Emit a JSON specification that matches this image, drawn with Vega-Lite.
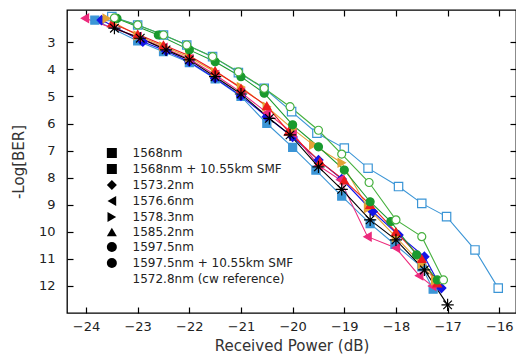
{
  "$schema": "https://vega.github.io/schema/vega-lite/v6.json",
  "width": 449,
  "height": 303,
  "autosize": {"type": "none"},
  "padding": {"left": 67, "top": 10, "right": 0, "bottom": 46},
  "background": "white",
  "config": {
    "view": {"stroke": "#000", "strokeWidth": 1.3},
    "font": "DejaVu Sans",
    "axis": {"domain": false, "grid": false, "tickColor": "#000", "tickWidth": 1.2, "tickSize": -6, "labelFont": "DejaVu Sans", "labelFontSize": 13, "labelColor": "#222", "titleFont": "DejaVu Sans", "titleFontSize": 15, "titleFontWeight": "normal", "titleColor": "#333"}
  },
  "datasets": {
    "d": [
      {"s": "1568nm", "x": -23.83, "y": 2.18}, {"s": "1568nm", "x": -23.0, "y": 2.95}, {"s": "1568nm", "x": -22.5, "y": 3.35}, {"s": "1568nm", "x": -22.0, "y": 3.75}, {"s": "1568nm", "x": -21.5, "y": 4.35}, {"s": "1568nm", "x": -21.0, "y": 5.0}, {"s": "1568nm", "x": -20.5, "y": 6.0}, {"s": "1568nm", "x": -20.0, "y": 6.88}, {"s": "1568nm", "x": -19.55, "y": 7.72}, {"s": "1568nm", "x": -19.05, "y": 8.68}, {"s": "1568nm", "x": -18.5, "y": 9.7}, {"s": "1568nm", "x": -18.02, "y": 10.47}, {"s": "1568nm", "x": -17.5, "y": 11.3}, {"s": "1568nm", "x": -17.28, "y": 12.12},
      {"s": "1568nm + 10.55km SMF", "x": -23.5, "y": 2.05}, {"s": "1568nm + 10.55km SMF", "x": -23.0, "y": 2.36}, {"s": "1568nm + 10.55km SMF", "x": -22.5, "y": 2.73}, {"s": "1568nm + 10.55km SMF", "x": -22.05, "y": 3.1}, {"s": "1568nm + 10.55km SMF", "x": -21.55, "y": 3.53}, {"s": "1568nm + 10.55km SMF", "x": -21.05, "y": 4.12}, {"s": "1568nm + 10.55km SMF", "x": -20.55, "y": 4.7}, {"s": "1568nm + 10.55km SMF", "x": -20.02, "y": 5.56}, {"s": "1568nm + 10.55km SMF", "x": -19.53, "y": 6.36}, {"s": "1568nm + 10.55km SMF", "x": -19.0, "y": 6.91}, {"s": "1568nm + 10.55km SMF", "x": -18.54, "y": 7.65}, {"s": "1568nm + 10.55km SMF", "x": -17.95, "y": 8.33}, {"s": "1568nm + 10.55km SMF", "x": -17.5, "y": 8.95}, {"s": "1568nm + 10.55km SMF", "x": -17.02, "y": 9.44}, {"s": "1568nm + 10.55km SMF", "x": -16.47, "y": 10.67}, {"s": "1568nm + 10.55km SMF", "x": -16.02, "y": 12.08},
      {"s": "1573.2nm", "x": -23.7, "y": 2.18}, {"s": "1573.2nm", "x": -22.9, "y": 2.98}, {"s": "1573.2nm", "x": -22.45, "y": 3.32}, {"s": "1573.2nm", "x": -22.0, "y": 3.72}, {"s": "1573.2nm", "x": -21.5, "y": 4.33}, {"s": "1573.2nm", "x": -21.0, "y": 4.98}, {"s": "1573.2nm", "x": -20.5, "y": 5.75}, {"s": "1573.2nm", "x": -20.0, "y": 6.5}, {"s": "1573.2nm", "x": -19.5, "y": 7.35}, {"s": "1573.2nm", "x": -19.05, "y": 8.05}, {"s": "1573.2nm", "x": -18.45, "y": 9.25}, {"s": "1573.2nm", "x": -17.95, "y": 10.12}, {"s": "1573.2nm", "x": -17.45, "y": 10.92}, {"s": "1573.2nm", "x": -17.12, "y": 12.08},
      {"s": "1576.6nm", "x": -24.02, "y": 2.11}, {"s": "1576.6nm", "x": -23.0, "y": 2.8}, {"s": "1576.6nm", "x": -22.5, "y": 3.2}, {"s": "1576.6nm", "x": -22.0, "y": 3.62}, {"s": "1576.6nm", "x": -21.5, "y": 4.2}, {"s": "1576.6nm", "x": -21.0, "y": 4.85}, {"s": "1576.6nm", "x": -20.5, "y": 5.6}, {"s": "1576.6nm", "x": -20.0, "y": 6.35}, {"s": "1576.6nm", "x": -19.5, "y": 7.55}, {"s": "1576.6nm", "x": -19.08, "y": 8.08}, {"s": "1576.6nm", "x": -18.55, "y": 10.18}, {"s": "1576.6nm", "x": -18.0, "y": 10.6}, {"s": "1576.6nm", "x": -17.55, "y": 11.62}, {"s": "1576.6nm", "x": -17.3, "y": 12.0},
      {"s": "1578.3nm", "x": -23.6, "y": 2.12}, {"s": "1578.3nm", "x": -23.0, "y": 2.75}, {"s": "1578.3nm", "x": -22.5, "y": 3.15}, {"s": "1578.3nm", "x": -22.0, "y": 3.55}, {"s": "1578.3nm", "x": -21.5, "y": 4.1}, {"s": "1578.3nm", "x": -21.0, "y": 4.65}, {"s": "1578.3nm", "x": -20.5, "y": 5.38}, {"s": "1578.3nm", "x": -20.0, "y": 6.2}, {"s": "1578.3nm", "x": -19.6, "y": 6.79}, {"s": "1578.3nm", "x": -19.05, "y": 7.45}, {"s": "1578.3nm", "x": -18.54, "y": 9.13}, {"s": "1578.3nm", "x": -18.0, "y": 10.2}, {"s": "1578.3nm", "x": -17.5, "y": 11.2}, {"s": "1578.3nm", "x": -17.24, "y": 11.8},
      {"s": "1585.2nm", "x": -23.5, "y": 2.3}, {"s": "1585.2nm", "x": -23.0, "y": 2.7}, {"s": "1585.2nm", "x": -22.5, "y": 3.1}, {"s": "1585.2nm", "x": -22.0, "y": 3.5}, {"s": "1585.2nm", "x": -21.5, "y": 4.05}, {"s": "1585.2nm", "x": -21.0, "y": 4.7}, {"s": "1585.2nm", "x": -20.5, "y": 5.35}, {"s": "1585.2nm", "x": -20.08, "y": 6.3}, {"s": "1585.2nm", "x": -19.47, "y": 7.41}, {"s": "1585.2nm", "x": -19.0, "y": 8.1}, {"s": "1585.2nm", "x": -18.5, "y": 9.0}, {"s": "1585.2nm", "x": -18.0, "y": 10.0}, {"s": "1585.2nm", "x": -17.5, "y": 11.0}, {"s": "1585.2nm", "x": -17.2, "y": 11.9},
      {"s": "1597.5nm", "x": -23.4, "y": 2.12}, {"s": "1597.5nm", "x": -22.6, "y": 2.73}, {"s": "1597.5nm", "x": -22.0, "y": 3.28}, {"s": "1597.5nm", "x": -21.5, "y": 3.72}, {"s": "1597.5nm", "x": -21.0, "y": 4.27}, {"s": "1597.5nm", "x": -20.55, "y": 4.88}, {"s": "1597.5nm", "x": -20.0, "y": 6.05}, {"s": "1597.5nm", "x": -19.5, "y": 6.86}, {"s": "1597.5nm", "x": -19.0, "y": 7.72}, {"s": "1597.5nm", "x": -18.5, "y": 8.89}, {"s": "1597.5nm", "x": -18.1, "y": 9.62}, {"s": "1597.5nm", "x": -17.6, "y": 10.85}, {"s": "1597.5nm", "x": -17.2, "y": 11.78},
      {"s": "1597.5nm + 10.55km SMF", "x": -23.45, "y": 2.1}, {"s": "1597.5nm + 10.55km SMF", "x": -23.0, "y": 2.36}, {"s": "1597.5nm + 10.55km SMF", "x": -22.5, "y": 2.73}, {"s": "1597.5nm + 10.55km SMF", "x": -22.05, "y": 3.1}, {"s": "1597.5nm + 10.55km SMF", "x": -21.55, "y": 3.53}, {"s": "1597.5nm + 10.55km SMF", "x": -21.05, "y": 4.09}, {"s": "1597.5nm + 10.55km SMF", "x": -20.55, "y": 4.7}, {"s": "1597.5nm + 10.55km SMF", "x": -20.05, "y": 5.38}, {"s": "1597.5nm + 10.55km SMF", "x": -19.5, "y": 6.25}, {"s": "1597.5nm + 10.55km SMF", "x": -19.05, "y": 7.13}, {"s": "1597.5nm + 10.55km SMF", "x": -18.52, "y": 8.18}, {"s": "1597.5nm + 10.55km SMF", "x": -18.0, "y": 9.56}, {"s": "1597.5nm + 10.55km SMF", "x": -17.5, "y": 10.18}, {"s": "1597.5nm + 10.55km SMF", "x": -17.08, "y": 11.78},
      {"s": "1572.8nm (cw reference)", "x": -23.45, "y": 2.48}, {"s": "1572.8nm (cw reference)", "x": -22.95, "y": 2.85}, {"s": "1572.8nm (cw reference)", "x": -22.45, "y": 3.28}, {"s": "1572.8nm (cw reference)", "x": -22.0, "y": 3.65}, {"s": "1572.8nm (cw reference)", "x": -21.5, "y": 4.27}, {"s": "1572.8nm (cw reference)", "x": -21.0, "y": 4.91}, {"s": "1572.8nm (cw reference)", "x": -20.45, "y": 5.81}, {"s": "1572.8nm (cw reference)", "x": -20.05, "y": 6.42}, {"s": "1572.8nm (cw reference)", "x": -19.5, "y": 7.6}, {"s": "1572.8nm (cw reference)", "x": -19.05, "y": 8.43}, {"s": "1572.8nm (cw reference)", "x": -18.5, "y": 9.56}, {"s": "1572.8nm (cw reference)", "x": -18.0, "y": 10.3}, {"s": "1572.8nm (cw reference)", "x": -17.45, "y": 11.41}, {"s": "1572.8nm (cw reference)", "x": -17.0, "y": 12.7}
    ]
  },
  "data": {"name": "d"},
  "layer": [
    {
      "mark": {"type": "line", "strokeWidth": 1.1},
      "encoding": {
        "x": {"field": "x", "type": "quantitative", "scale": {"domain": [-24.368, -15.676], "nice": false, "zero": false}, "axis": {"orient": "bottom", "values": [-24, -23, -22, -21, -20, -19, -18, -17, -16], "title": "Received Power (dB)", "labelPadding": 13, "titlePadding": 5}},
        "y": {"field": "y", "type": "quantitative", "scale": {"domain": [1.807, 13.0], "reverse": true, "nice": false, "zero": false}, "axis": {"orient": "left", "values": [3, 4, 5, 6, 7, 8, 9, 10, 11, 12], "title": "-Log[BER]", "labelPadding": 18, "titlePadding": 12}},
        "stroke": {"field": "s", "type": "nominal", "scale": {"domain": ["1568nm", "1568nm + 10.55km SMF", "1573.2nm", "1576.6nm", "1578.3nm", "1585.2nm", "1597.5nm", "1597.5nm + 10.55km SMF", "1572.8nm (cw reference)", "_"], "range": ["#3b95d6", "#3b95d6", "#1414e6", "#ec2a7c", "#e4a235", "#ec1c1c", "#1a9a2e", "#46b03e", "#000000", "#000000"]}, "legend": null},
        "detail": {"field": "s"}
      }
    },
    {
      "mark": {"type": "point", "filled": true, "opacity": 1, "strokeWidth": 1.2},
      "encoding": {
        "x": {"field": "x", "type": "quantitative", "scale": {"domain": [-24.368, -15.676], "nice": false, "zero": false}, "axis": {"orient": "top", "values": [-24, -23, -22, -21, -20, -19, -18, -17, -16], "labels": false, "title": null}},
        "y": {"field": "y", "type": "quantitative", "scale": {"domain": [1.807, 13.0], "reverse": true, "nice": false, "zero": false}, "axis": {"orient": "right", "values": [3, 4, 5, 6, 7, 8, 9, 10, 11, 12], "labels": false, "title": null}},
        "stroke": {"field": "s", "type": "nominal", "legend": null},
        "fill": {"field": "s", "type": "nominal", "scale": {"domain": ["1568nm", "1568nm + 10.55km SMF", "1573.2nm", "1576.6nm", "1578.3nm", "1585.2nm", "1597.5nm", "1597.5nm + 10.55km SMF", "1572.8nm (cw reference)", "_"], "range": ["#3b95d6", "#ffffff", "#1414e6", "#ec2a7c", "#e4a235", "#ec1c1c", "#1a9a2e", "#ffffff", "transparent", "transparent"]}, "legend": null},
        "size": {"field": "s", "type": "nominal", "scale": {"type": "ordinal", "domain": ["1568nm", "1568nm + 10.55km SMF", "1573.2nm", "1576.6nm", "1578.3nm", "1585.2nm", "1597.5nm", "1597.5nm + 10.55km SMF", "1572.8nm (cw reference)", "_"], "range": [64, 70, 80, 70, 70, 70, 64, 64, 150, 64]}, "legend": null},
        "shape": {
          "field": "s", "type": "nominal",
          "scale": {"domain": ["1568nm", "1568nm + 10.55km SMF", "1573.2nm", "1576.6nm", "1578.3nm", "1585.2nm", "1597.5nm", "1597.5nm + 10.55km SMF", "1572.8nm (cw reference)"], "range": ["square", "square", "diamond", "triangle-left", "triangle-right", "triangle-up", "circle", "circle", "M-1,0H1M0,-1V1M-0.7,-0.7L0.7,0.7M-0.7,0.7L0.7,-0.7"]},
          "legend": {
            "orient": "none", "legendX": 38.85, "legendY": 137, "title": null, "padding": 0,
            "symbolSize": 100, "symbolStrokeWidth": 1.2,
            "labelFont": "DejaVu Sans", "labelFontSize": 12, "labelColor": "#222", "labelOffset": 14.7, "labelLimit": 300, "rowPadding": 0,
            "encode": {
              "symbols": {
                "shape": {"value": {"expr": "['M-2.83,0H2.83M-0.8,-0.8H0.8V0.8H-0.8Z','M-2.83,0H-0.8M0.8,0H2.83M-0.8,-0.8H0.8V0.8H-0.8Z','M-2.83,0H2.83M0,-1L0.85,0L0,1L-0.85,0Z','M-2.83,0H2.83M-0.95,0L0.8,-0.9L0.8,0.9Z','M-2.83,0H2.83M0.95,0L-0.8,-0.9L-0.8,0.9Z','M-2.83,0H2.83M0,-0.95L0.95,0.75L-0.95,0.75Z','M-2.83,0H2.83M-0.9,0A0.9,0.9,0,1,0,0.9,0A0.9,0.9,0,1,0,-0.9,0Z','M-2.83,0H-0.9M0.9,0H2.83M-0.9,0A0.9,0.9,0,1,0,0.9,0A0.9,0.9,0,1,0,-0.9,0Z','M-2.83,0H2.83M0,-1.1V1.1M-0.95,-0.55L0.95,0.55M-0.95,0.55L0.95,-0.55'][datum.index]"}},
                "fill": {"value": {"expr": "['#3b95d6','#ffffff','#1414e6','#ec2a7c','#e4a235','#ec1c1c','#1a9a2e','#ffffff','transparent'][datum.index]"}},
                "stroke": {"value": {"expr": "['#3b95d6','#3b95d6','#1414e6','#ec2a7c','#e4a235','#ec1c1c','#1a9a2e','#46b03e','#000000'][datum.index]"}},
                "opacity": {"value": 1},
                "fillOpacity": {"value": 1},
                "size": {"value": 100},
                "strokeWidth": {"value": 1.2}
              }
            }
          }
        }
      }
    }
  ]
}
